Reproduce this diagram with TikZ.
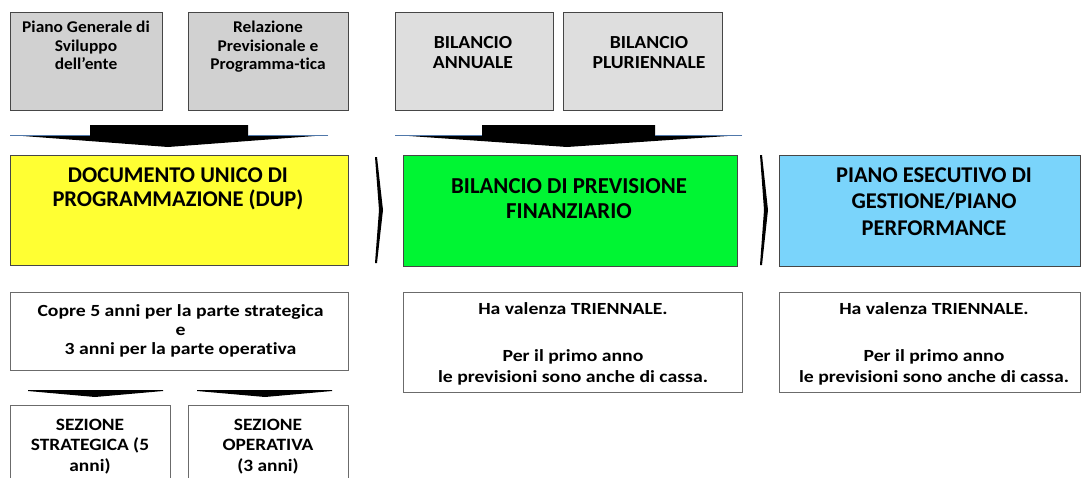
\documentclass[tikz,border=0pt]{standalone}
\usepackage{fontspec}
\setmainfont{Carlito}[Ligatures=NoCommon]
\newfontfamily\fA{Carlito}[Ligatures=NoCommon, FakeStretch=1.06]
\newfontfamily\fB{Carlito}[Ligatures=NoCommon, FakeStretch=1.07]
\newfontfamily\fL{Carlito}[Ligatures=NoCommon, FakeStretch=1.16]
\newfontfamily\fS{Carlito}[Ligatures=NoCommon, FakeStretch=1.12]
\definecolor{graybox}{RGB}{209,209,209}
\definecolor{graybox2}{RGB}{222,222,222}
\definecolor{yel}{RGB}{255,255,51}
\definecolor{grn}{RGB}{0,245,51}
\definecolor{blu}{RGB}{122,212,251}
\definecolor{edge}{RGB}{70,70,70}
\definecolor{wingedge}{RGB}{80,120,170}
\tikzset{
  gbox/.style={draw=edge, line width=0.9pt, fill=graybox},
  cbox/.style={draw=edge, line width=0.9pt},
  wbox/.style={draw=edge!80, line width=0.9pt, fill=white},
  txt/.style={anchor=base, align=center, inner sep=0pt},
  merge/.style={fill=black},
  chev/.style={fill=black},
}
\begin{document}
\begin{tikzpicture}[x=1pt,y=-1pt]
\useasboundingbox (0,0) rectangle (1081,477);
% top gray boxes
\path[gbox] (10,12) rectangle (162,110);
\path[gbox] (188,12) rectangle (348,110);
\path[gbox, fill=graybox2] (395,12) rectangle (553,110);
\path[gbox, fill=graybox2] (563,12) rectangle (722,110);
\node[txt, font=\fA\bfseries\fontsize{16.4}{18.5}\selectfont] (t1) at (86,69.5) {Piano Generale di\\Sviluppo\\dell’ente};
\node[txt, font=\fA\bfseries\fontsize{16.4}{18.5}\selectfont] (t2) at (268,69.5) {Relazione\\Previsionale e\\Programma-tica};
\node[txt, font=\fB\bfseries\fontsize{18.4}{20.5}\selectfont] (t3) at (473,68.5) {BILANCIO\\ANNUALE};
\node[txt, font=\fB\bfseries\fontsize{18.4}{20.5}\selectfont] (t4) at (649,68.5) {BILANCIO\\PLURIENNALE};
% merge arrows
\fill[merge] (10,135) -- (90,135) -- (90,125) -- (248,125) -- (248,135) -- (328,135) -- (168,147) -- cycle;
\draw[wingedge, line width=0.8pt] (10,135) -- (90,135) (248,135) -- (328,135);
\fill[merge] (395,135) -- (482,135) -- (482,125) -- (655,125) -- (655,135) -- (742,135) -- (567,147) -- cycle;
\draw[wingedge, line width=0.8pt] (395,135) -- (482,135) (655,135) -- (742,135);
% main boxes
\path[cbox, fill=yel] (10,155) rectangle (348,265);
\path[cbox, fill=grn] (403,155) rectangle (737,266);
\path[cbox, fill=blu] (779,155) rectangle (1080,266);
\node[txt, font=\bfseries\fontsize{22.5}{24}\selectfont] (m1) at (178,206) {DOCUMENTO UNICO DI\\PROGRAMMAZIONE (DUP)};
\node[txt, font=\bfseries\fontsize{22.8}{25}\selectfont] (m2) at (569,218) {BILANCIO DI PREVISIONE\\FINANZIARIO};
\node[txt, font=\bfseries\fontsize{22.5}{26.5}\selectfont] (m3) at (934,235) {PIANO ESECUTIVO DI\\GESTIONE/PIANO\\PERFORMANCE};
% chevrons
\fill[chev] (375,157) -- (377,157) -- (383,210) -- (377,263) -- (375,263) -- (379,210) -- cycle;
\fill[chev] (760,155) -- (762,155) -- (768,210) -- (762,265) -- (760,265) -- (764,210) -- cycle;
% lower white boxes
\path[wbox] (10,292) rectangle (348,370);
\path[wbox] (403,292) rectangle (742,392);
\path[wbox] (779,292) rectangle (1080,392);
\node[txt, font=\fL\bfseries\fontsize{17}{19}\selectfont] (l1) at (180.5,354.5) {Copre 5 anni per la parte strategica\\e\\3 anni per la parte operativa};
\node[txt, font=\fL\bfseries\fontsize{17}{20.5}\selectfont] (l2) at (573,382) {Ha valenza TRIENNALE.\\[26.9pt]Per il primo anno\\le previsioni sono anche di cassa.};
\node[txt, font=\fL\bfseries\fontsize{17}{20.5}\selectfont] (l3) at (934,382) {Ha valenza TRIENNALE.\\[26.9pt]Per il primo anno\\le previsioni sono anche di cassa.};
% small arrows
\fill[merge] (28,390) -- (163,390) -- (163,391) -- (95,397) -- (28,391) -- cycle;
\fill[merge] (197,390) -- (332,390) -- (332,391) -- (265,397) -- (197,391) -- cycle;
% sezione boxes
\path[wbox] (10,405) rectangle (170,480);
\path[wbox] (188,405) rectangle (348,480);
\node[txt, font=\fS\bfseries\fontsize{17.3}{20.5}\selectfont] (s1) at (90,471) {SEZIONE\\STRATEGICA (5\\anni)};
\node[txt, font=\fS\bfseries\fontsize{17.3}{20.5}\selectfont] (s2) at (268,471) {SEZIONE\\OPERATIVA\\(3 anni)};
\end{tikzpicture}
\end{document}
